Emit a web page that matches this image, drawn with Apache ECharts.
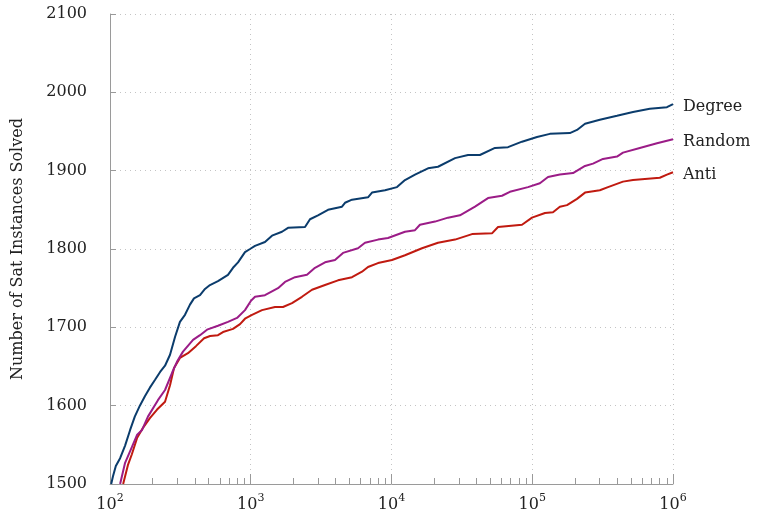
<!DOCTYPE html>
<html>
<head>
<meta charset="utf-8">
<script src="https://cdn.jsdelivr.net/npm/echarts@6/dist/echarts.min.js"></script>
<style>
html,body{margin:0;padding:0;background:#fff;}
#chart{width:763px;height:517px;}
</style>
</head>
<body>
<div id="chart"></div>
<script>
const seriesNames = ['Degree', 'Random', 'Anti'];
const seriesColors = ['#0b3c6c', '#9b1c87', '#c01a10'];

const degreeX = [102,105,110,118,128,139,150,163,177,192,209,227,246,267,290,314,341,370,395,436,473,513,585,689,748,812,910,988,1072,1262,1416,1667,1840,2429,2636,3004,3539,4449,4673,5241,6808,7268,8992,10942,12470,14690,18170,21400,28270,34970,42470,54360,67250,84570,108100,133400,185000,208000,237100,302100,400000,519700,684100,906000,1000000];
const degreeY = [1500,1510,1523,1533,1549,1569,1586,1600,1612,1623,1633,1643,1651,1665,1688,1707,1716,1729,1737,1741,1749,1754,1759,1767,1776,1783,1796,1800,1804,1809,1817,1822,1827,1828,1838,1843,1850,1854,1859,1863,1866,1872,1875,1879,1888,1895,1903,1905,1916,1920,1920,1929,1930,1937,1943,1947,1948,1952,1960,1965,1970,1975,1979,1981,1985];

const randomX = [118,128,143,156,169,186,219,246,276,299,330,389,436,489,585,689,799,910,1004,1072,1262,1562,1751,2063,2509,2860,3370,3968,4523,5781,6482,8019,9443,12470,14690,15925,20380,25200,30630,39200,48490,60970,69360,93280,113300,129400,157100,194800,237100,270200,318100,400000,441300,581000,769400,1000000];
const randomY = [1500,1527,1547,1563,1569,1586,1607,1620,1642,1656,1669,1684,1690,1697,1702,1707,1712,1722,1734,1739,1741,1750,1758,1764,1767,1776,1783,1786,1795,1801,1808,1812,1814,1822,1824,1831,1835,1840,1843,1854,1865,1868,1873,1879,1884,1892,1895,1897,1906,1909,1915,1918,1923,1929,1935,1940];

const antiX = [124,134,143,156,172,192,216,246,267,285,314,358,408,466,514,585,635,748,839,910,1021,1202,1487,1695,1964,2312,2724,3370,4168,5241,6172,6808,8019,10080,12470,16470,21400,28270,37330,51760,57120,84570,99590,123200,140400,157100,176600,208000,237100,302100,345300,441300,519700,805700,906000,1000000];
const antiY = [1500,1524,1538,1559,1572,1584,1595,1605,1626,1648,1661,1667,1676,1686,1689,1690,1694,1698,1704,1711,1716,1722,1726,1726,1731,1739,1748,1754,1760,1764,1771,1777,1782,1786,1792,1801,1808,1812,1819,1820,1828,1831,1840,1846,1847,1854,1856,1864,1872,1875,1879,1886,1888,1891,1895,1898];

const yTicks = [1500,1600,1700,1800,1900,2000,2100];
const xMajorTicks = [100,1000,10000,100000,1000000];
const xMinorTicks = [200,300,400,500,600,700,800,900,2000,3000,4000,5000,6000,7000,8000,9000,20000,30000,40000,50000,60000,70000,80000,90000,200000,300000,400000,500000,600000,700000,800000,900000];

const FONT = 'DejaVu Serif';
const xs = [degreeX, randomX, antiX];
const ys = [degreeY, randomY, antiY];

const chart = echarts.init(document.getElementById('chart'), null, {renderer:'canvas'});

const lineSeries = seriesNames.map(function(name, i){
  return {
    name: name, type: 'line',
    data: xs[i].map(function(x, j){ return [x, ys[i][j]]; }),
    showSymbol: false, symbol: 'none',
    lineStyle: {color: seriesColors[i], width: 2},
    itemStyle: {color: seriesColors[i]},
    endLabel: {show:true, formatter:'{a}', fontFamily: FONT, fontSize: 16, color:'#222', distance: 10, offset:[0,3]},
    z: 3 - i
  };
});

// minor ticks (2..9 x 10^k) placed through the log axis scale
const minorTickSeries = {
  type: 'custom', silent: true, clip: false, z: 1,
  data: xMinorTicks.map(function(v){ return [v, yTicks[0]]; }),
  encode: {x: 0, y: 1},
  renderItem: function(params, api){
    const p = api.coord([api.value(0), api.value(1)]);
    const x = Math.round(p[0]) + 0.5;
    return {type:'line', shape:{x1:x, y1:p[1], x2:x, y2:p[1]-6},
            style:{stroke:'#999999', lineWidth:1, fill:null}};
  }
};

const option = {
  animation: false,
  backgroundColor: '#fff',
  grid: {left:110, right:90, top:14, bottom:33, containLabel:false},
  xAxis: {
    type: 'log', logBase: 10, min: xMajorTicks[0], max: xMajorTicks[xMajorTicks.length-1],
    axisLine: {show:true, lineStyle:{color:'#9a9a9a', width:1}},
    axisTick: {show:true, inside:true, length:10, lineStyle:{color:'#999999', width:1}},
    splitLine: {show:true, lineStyle:{color:'#c4c4c4', type:[1,4], width:1}},
    minorTick: {show:false},
    axisLabel: {
      margin: 9,
      formatter: function(v){ return '{b|10}{e|' + Math.round(Math.log10(v)) + '}'; },
      rich: {
        b: {fontFamily: FONT, fontSize: 16, color:'#222', lineHeight: 20, verticalAlign:'bottom'},
        e: {fontFamily: FONT, fontSize: 11, color:'#222', verticalAlign:'top', lineHeight: 12}
      }
    }
  },
  yAxis: {
    type: 'value', min: yTicks[0], max: yTicks[yTicks.length-1], interval: 100,
    name: 'Number of Sat Instances Solved',
    nameLocation: 'middle', nameGap: 84, nameRotate: 90,
    nameTextStyle: {fontFamily: FONT, fontSize: 16, color:'#222'},
    axisLine: {show:true, lineStyle:{color:'#9a9a9a', width:1}},
    axisTick: {show:true, inside:true, length:6, lineStyle:{color:'#999999'}},
    splitLine: {show:true, lineStyle:{color:'#c4c4c4', type:[1,4], width:1}},
    axisLabel: {margin: 23, fontFamily: FONT, fontSize: 16, color:'#222', formatter: function(v){ return String(v); }}
  },
  series: lineSeries.concat([minorTickSeries])
};
chart.setOption(option);
</script>
</body>
</html>
